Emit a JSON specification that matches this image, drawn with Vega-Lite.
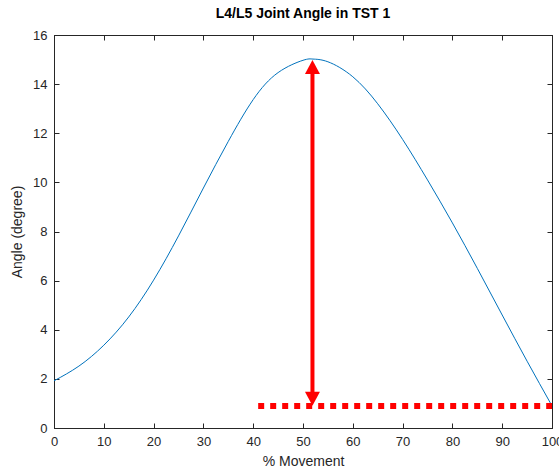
{
  "$schema": "https://vega.github.io/schema/vega-lite/v6.json",
  "width": 498,
  "height": 393,
  "autosize": {"type": "none"},
  "padding": {"left": 54, "top": 35, "right": 7, "bottom": 48},
  "background": "white",
  "config": {
    "font": "Liberation Sans",
    "view": {"stroke": "#262626", "strokeWidth": 1},
    "axis": {
      "grid": false,
      "domainColor": "#262626",
      "tickColor": "#262626",
      "labelColor": "#262626",
      "titleColor": "#262626",
      "labelFont": "Liberation Sans",
      "titleFont": "Liberation Sans",
      "labelFontSize": 13,
      "titleFontSize": 14,
      "titleFontWeight": "normal",
      "labelFlush": false,
      "labelOverlap": false
    }
  },
  "title": {
    "text": "L4/L5 Joint Angle in TST 1",
    "font": "Liberation Sans",
    "fontSize": 14,
    "fontWeight": "bold",
    "color": "#000000",
    "anchor": "middle",
    "offset": 8
  },
  "datasets": {
    "curve": [
      {"x": 0, "y": 1.92}, {"x": 5, "y": 2.52}, {"x": 10, "y": 3.37}, {"x": 15, "y": 4.52},
      {"x": 20, "y": 6.02}, {"x": 25, "y": 7.82}, {"x": 30, "y": 9.77}, {"x": 35, "y": 11.67},
      {"x": 40, "y": 13.37}, {"x": 45, "y": 14.47}, {"x": 50, "y": 14.97}, {"x": 52, "y": 15.02},
      {"x": 55, "y": 14.91}, {"x": 60, "y": 14.3}, {"x": 65, "y": 13.2}, {"x": 70, "y": 11.75},
      {"x": 75, "y": 10.1}, {"x": 80, "y": 8.35}, {"x": 85, "y": 6.5}, {"x": 90, "y": 4.6},
      {"x": 95, "y": 2.72}, {"x": 100, "y": 0.9}
    ],
    "baseline": [{"x": 41, "y": 0.9}, {"x": 100, "y": 0.9}],
    "arrow": [{"x": 51.9, "y": 1.2, "y2": 14.7}],
    "headUp": [{"x": 51.9, "y": 14.7}],
    "headDown": [{"x": 51.9, "y": 1.19}]
  },
  "layer": [
    {
      "data": {"name": "curve"},
      "mark": {"type": "line", "color": "#0072BD", "strokeWidth": 1, "interpolate": "natural", "clip": true},
      "encoding": {
        "x": {"field": "x", "type": "quantitative", "scale": {"domain": [0, 100], "nice": false, "zero": false},
              "axis": {"title": "% Movement", "values": [0,10,20,30,40,50,60,70,80,90,100], "tickSize": -5, "labelPadding": 12, "titlePadding": 6}},
        "y": {"field": "y", "type": "quantitative", "scale": {"domain": [0, 16], "nice": false, "zero": false},
              "axis": {"title": "Angle (degree)", "values": [0,2,4,6,8,10,12,14,16], "tickSize": -5, "labelPadding": 12, "titlePadding": 8}}
      }
    },
    {
      "data": {"name": "baseline"},
      "mark": {"type": "line", "color": "#ff0000", "strokeWidth": 6, "strokeDash": [6, 6], "strokeCap": "butt"},
      "encoding": {
        "x": {"field": "x", "type": "quantitative",
              "axis": {"orient": "top", "title": null, "labels": false, "values": [0,10,20,30,40,50,60,70,80,90,100], "tickSize": -5}},
        "y": {"field": "y", "type": "quantitative",
              "axis": {"orient": "right", "title": null, "labels": false, "values": [0,2,4,6,8,10,12,14,16], "tickSize": -5}}
      }
    },
    {
      "data": {"name": "arrow"},
      "mark": {"type": "rule", "color": "#ff0000", "strokeWidth": 4},
      "encoding": {
        "x": {"field": "x", "type": "quantitative", "axis": null},
        "y": {"field": "y", "type": "quantitative", "axis": null},
        "y2": {"field": "y2"}
      }
    },
    {
      "data": {"name": "headUp"},
      "mark": {"type": "point", "shape": "M0,-1L1.07,1L-1.07,1Z", "size": 196, "filled": true, "color": "#ff0000", "opacity": 1, "strokeWidth": 0},
      "encoding": {
        "x": {"field": "x", "type": "quantitative", "axis": null},
        "y": {"field": "y", "type": "quantitative", "axis": null}
      }
    },
    {
      "data": {"name": "headDown"},
      "mark": {"type": "point", "shape": "M0,1L1.07,-1L-1.07,-1Z", "size": 196, "filled": true, "color": "#ff0000", "opacity": 1, "strokeWidth": 0},
      "encoding": {
        "x": {"field": "x", "type": "quantitative", "axis": null},
        "y": {"field": "y", "type": "quantitative", "axis": null}
      }
    }
  ],
  "resolve": {"axis": {"x": "independent", "y": "independent"}}
}
